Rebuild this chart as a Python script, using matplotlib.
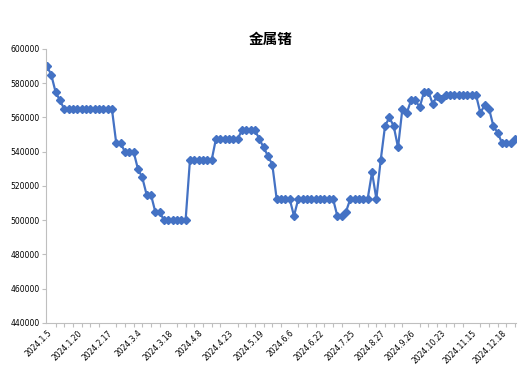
import numpy as np
import matplotlib.pyplot as plt

# price series (one value per record)
prices = [
    590000, 585000, 575000, 570000,
    565000, 565000, 565000, 565000, 565000, 565000,
    565000, 565000, 565000, 565000, 565000, 565000,
    545000, 545000, 540000, 540000, 540000, 530000, 525000,
    515000, 515000, 505000, 505000,
    500000, 500000, 500000, 500000, 500000, 500000,
    535000, 535000, 535000, 535000, 535000, 535000,
    547500, 547500, 547500, 547500, 547500, 547500,
    552500, 552500, 552500, 552500,
    547500, 542500, 537500, 532500,
    512500, 512500, 512500, 512500, 502500,
    512500, 512500, 512500, 512500, 512500, 512500, 512500, 512500, 512500,
    502500, 502500, 505000,
    512500, 512500, 512500, 512500, 512500,
    528000, 512500, 535000, 555000, 560000, 555000, 542500,
    565000, 562500, 570000, 570000, 566000, 575000, 575000,
    568000, 572500, 571000,
    573000, 573000, 573000, 573000, 573000, 573000, 573000, 573000,
    562500, 567500, 565000, 555000, 551000,
    545000, 545000, 545000, 547500,
]
tick_labels = ["2024.1.5", "2024.1.20", "2024.2.17", "2024.3.4", "2024.3.18",
               "2024.4.8", "2024.4.23", "2024.5.19", "2024.6.6", "2024.6.22",
               "2024.7.25", "2024.8.27", "2024.9.26", "2024.10.23", "2024.11.15",
               "2024.12.18"]
label_step = 7
y_ticks = [440000, 460000, 480000, 500000, 520000, 540000, 560000, 580000, 600000]

plt.rcParams['font.family'] = ['Noto Sans CJK SC', 'DejaVu Sans']

fig = plt.figure(figsize=(5.21, 3.71), dpi=100)
ax = fig.add_axes([0.0883, 0.1294, 0.902, 0.7386])

x = np.arange(len(prices))
ax.plot(x, prices, color='#4472C4', linewidth=1.6, marker='D', markersize=3.6,
        markerfacecolor='#4472C4', markeredgecolor='#4472C4')

ax.set_ylim(440000, 600000)
ax.set_yticks(y_ticks)
ax.set_yticklabels([str(v) for v in y_ticks], fontsize=5.5, family='DejaVu Sans')
ax.set_xlim(-0.2, len(prices) - 0.8)

ax.set_xticks(np.arange(0, len(prices), label_step))
ax.set_xticklabels(tick_labels, rotation=45, ha='right', rotation_mode='anchor',
                   fontsize=5.5, family='DejaVu Sans')
ax.set_xticks(np.arange(0, len(prices), 2), minor=True)
ax.tick_params(axis='x', which='major', length=0, pad=4)
ax.tick_params(axis='x', which='minor', length=3, color='#bfbfbf', width=0.8)
ax.tick_params(axis='y', length=3, color='#bfbfbf', width=0.8, pad=1.5)

for side in ['top', 'right']:
    ax.spines[side].set_visible(False)
for side in ['left', 'bottom']:
    ax.spines[side].set_color('#bfbfbf')
    ax.spines[side].set_linewidth(0.8)

fig.text(0.52, 0.895, "金属锗", ha='center', va='center', fontsize=10.5,
         fontweight='bold', family='Noto Sans CJK SC')

fig.savefig("out.png", dpi=100)
plt.close(fig)
